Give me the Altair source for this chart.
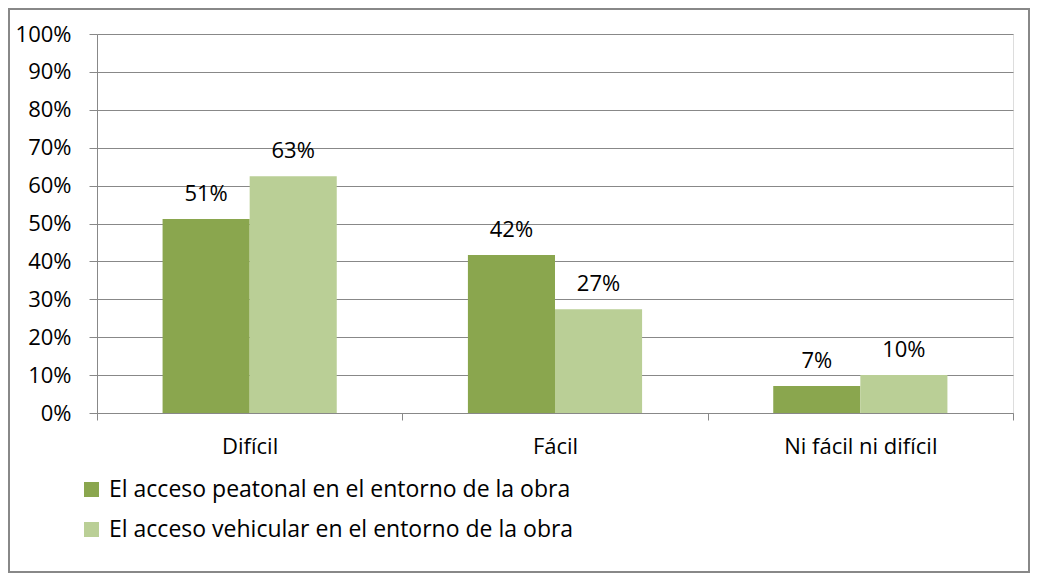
import altair as alt
import pandas as pd

categories = ["Difícil", "Fácil", "Ni fácil ni difícil"]
series = ["El acceso peatonal en el entorno de la obra",
          "El acceso vehicular en el entorno de la obra"]
peatonal = [0.512, 0.417, 0.071]
vehicular = [0.625, 0.274, 0.100]
labels_peatonal = ["51%", "42%", "7%"]
labels_vehicular = ["63%", "27%", "10%"]
colors = ["#8AA64E", "#BACF96"]

rows = []
for c, v, l in zip(categories, peatonal, labels_peatonal):
    rows.append({"cat": c, "serie": series[0], "val": v, "lab": l})
for c, v, l in zip(categories, vehicular, labels_vehicular):
    rows.append({"cat": c, "serie": series[1], "val": v, "lab": l})
df = pd.DataFrame(rows)

FONT = "Open Sans"
FS = 22
GRID = "#888888"

x = alt.X("cat:N", sort=categories, title=None,
          scale=alt.Scale(paddingInner=0, paddingOuter=0),
          axis=alt.Axis(labelAngle=0, tickBand="extent", ticks=True, tickSize=7,
                        tickColor=GRID, domainColor=GRID, labelPadding=16,
                        labelFontSize=FS, labelColor="#000000", labelFont=FONT,
                        grid=False))
xo = alt.XOffset("serie:N", sort=series,
                 scale=alt.Scale(paddingOuter=0.753, paddingInner=0))
y = alt.Y("val:Q", title=None,
          scale=alt.Scale(domain=[0, 1], nice=False),
          axis=alt.Axis(format=".0%", values=[i / 10 for i in range(11)],
                        tickSize=8, tickColor=GRID, domainColor=GRID,
                        gridColor=GRID, grid=True, labelPadding=18,
                        labelFontSize=FS, labelColor="#000000", labelFont=FONT))
color = alt.Color("serie:N", sort=series,
                  scale=alt.Scale(domain=series, range=colors),
                  legend=alt.Legend(title=None, orient="none", legendX=-17, legendY=444,
                                    symbolType="square", symbolSize=225,
                                    symbolStrokeWidth=0, symbolOpacity=1,
                                    labelFontSize=23, labelFont=FONT, labelColor="#000000",
                                    rowPadding=16, labelOffset=6, labelLimit=800))

base = alt.Chart(df)
bars = base.mark_bar(opacity=1).encode(x=x, xOffset=xo, y=y, color=color)
text = base.mark_text(dy=-25, baseline="middle", fontSize=FS, font=FONT, color="#000000").encode(
    x=x, xOffset=xo, y=y, text="lab:N")

border = alt.Chart(pd.DataFrame({"a": [0]})).mark_rect(
    fill=None, stroke=GRID, strokeWidth=2, clip=False).encode(
    x=alt.value(-88), x2=alt.value(932), y=alt.value(-25), y2=alt.value(538))

chart = alt.layer(border, bars, text).properties(
    width=916, height=379,
    padding={"left": 89, "top": 26, "right": 17, "bottom": 160},
    autosize=alt.AutoSizeParams(type="none"),
).configure_view(stroke=None).configure(font=FONT, background="white")

chart.save("out.html", embed_options={"renderer": "svg", "actions": False})
